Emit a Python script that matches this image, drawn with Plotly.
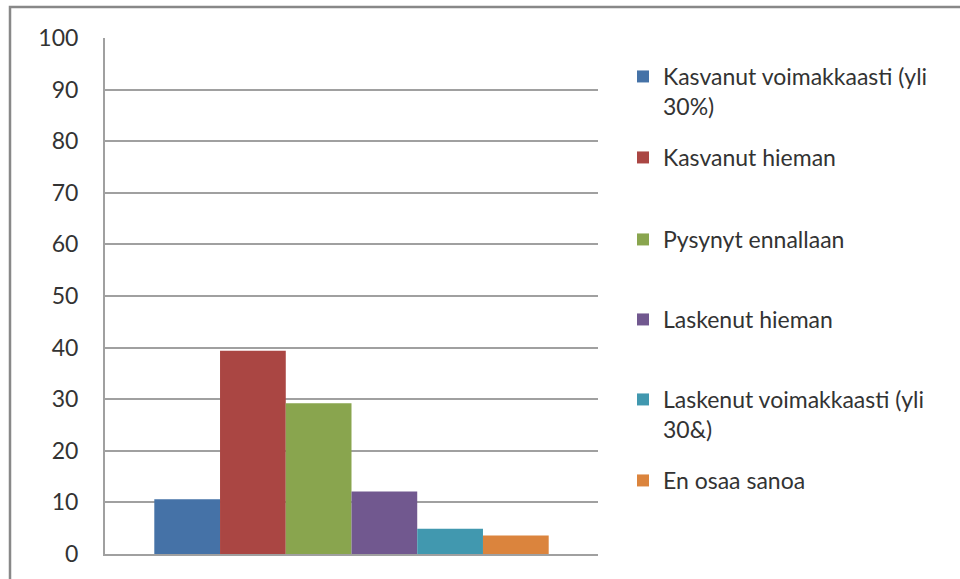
import plotly.graph_objects as go

categories = [""]
series_names = [
    "Kasvanut voimakkaasti (yli<br>30%)",
    "Kasvanut hieman",
    "Pysynyt ennallaan",
    "Laskenut hieman",
    "Laskenut voimakkaasti (yli<br>30&)",
    "En osaa sanoa",
]
series_values = [10.6, 39.4, 29.2, 12.1, 4.9, 3.6]
colors = ["#4572A7", "#AA4643", "#89A54E", "#71588F", "#4198AF", "#DB843D"]
tick_vals = [0, 10, 20, 30, 40, 50, 60, 70, 80, 90, 100]

W, H = 960, 579
ML, MR, MT, MB = 105, 362, 38, 25
PW = W - ML - MR
PH = H - MT - MB

def px_x(p):
    return (p - ML) / PW

def px_y(p):
    return (H - MB - p) / PH

FONT = "Lato"
legend_tops = [55, 136, 218, 298, 378, 459]

fig = go.Figure()
layout_legends = {}
for i, (name, val, col) in enumerate(zip(series_names, series_values, colors)):
    lg = "legend" if i == 0 else f"legend{i+1}"
    fig.add_trace(go.Bar(
        x=categories, y=[val], name=name, marker=dict(color=col, line=dict(width=0)),
        legend=lg,
    ))
    layout_legends[lg] = dict(
        x=px_x(623), y=px_y(legend_tops[i]), xanchor="left", yanchor="top",
        font=dict(family=FONT, size=23, color="#333333"),
        bgcolor="rgba(0,0,0,0)", valign="top", itemclick=False,
    )

fig.update_layout(
    width=W, height=H,
    margin=dict(l=ML, r=MR, t=MT, b=MB),
    paper_bgcolor="white", plot_bgcolor="white",
    barmode="group", bargap=0.2, bargroupgap=0,
    showlegend=True,
    xaxis=dict(showticklabels=False, showgrid=False, zeroline=False,
               showline=True, linecolor="#A0A0A0", linewidth=2, ticks=""),
    yaxis=dict(range=[0, 100], tickvals=tick_vals, showgrid=True,
               gridcolor="#A0A0A0", gridwidth=1.5, zeroline=False,
               showline=True, linecolor="#A0A0A0", linewidth=2,
               ticks="", ticklabelstandoff=20,
               tickfont=dict(family=FONT, size=23, color="#333333")),
    **layout_legends,
)
fig.update_layout(
    shapes=[dict(type="rect", xref="paper", yref="paper",
                 x0=px_x(10), y0=px_y(W), x1=px_x(W + 20), y1=px_y(7),
                 line=dict(color="#888888", width=2.5), fillcolor="rgba(0,0,0,0)",
                 layer="below")]
)

fig.write_html("out.html")
